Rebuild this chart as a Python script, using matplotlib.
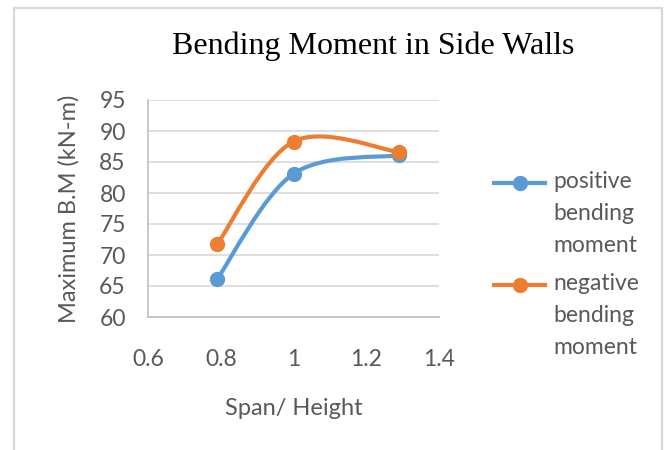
import matplotlib
matplotlib.use("Agg")
import matplotlib.pyplot as plt
from matplotlib.path import Path
from matplotlib.patches import PathPatch, Rectangle
from matplotlib.lines import Line2D
import numpy as np

span_height = [0.79, 1.0, 1.29]
positive_bm = [66.1, 83.1, 86.1]
negative_bm = [71.7, 88.3, 86.6]
x_ticks = [0.6, 0.8, 1.0, 1.2, 1.4]
x_tick_labels = ["0.6", "0.8", "1", "1.2", "1.4"]
y_ticks = [60, 65, 70, 75, 80, 85, 90, 95]
series_labels = ["positive\nbending\nmoment", "negative\nbending\nmoment"]
colors = ["#5B9BD5", "#ED7D31"]

sans = "Lato"
tick_color = "#595959"
fs = 16.5

fig = plt.figure(figsize=(6.7, 4.5), dpi=100)
fig.patches.append(Rectangle((14 / 670, -0.05), (662 - 14) / 670, 1 - 8 / 450 + 0.05,
                             transform=fig.transFigure, fill=False,
                             edgecolor="#D9D9D9", linewidth=1.6, zorder=0))

ax = fig.add_axes([148 / 670, 1 - 317 / 450, (439 - 148) / 670, (317 - 100) / 450])
ax.set_xlim(0.6, 1.4)
ax.set_ylim(60, 95)
ax.set_xticks(x_ticks)
ax.set_xticklabels(x_tick_labels)
ax.set_yticks(y_ticks)
ax.yaxis.grid(True, color="#D9D9D9", linewidth=1.2)
ax.set_axisbelow(True)
for s in ["top", "right"]:
    ax.spines[s].set_visible(False)
for s in ["left", "bottom"]:
    ax.spines[s].set_color("#BFBFBF")
    ax.spines[s].set_linewidth(1.2)
ax.tick_params(length=0, labelsize=fs, labelcolor=tick_color)
ax.tick_params(axis="x", pad=23)
ax.tick_params(axis="y", pad=16)
for lab in ax.get_xticklabels() + ax.get_yticklabels():
    lab.set_fontfamily(sans)


def smooth_path(xs, ys):
    pts = np.column_stack([xs, ys]).astype(float)
    n = len(pts)
    verts = [pts[0]]
    codes = [Path.MOVETO]
    for i in range(n - 1):
        p0 = pts[i - 1] if i > 0 else pts[i]
        p1 = pts[i]
        p2 = pts[i + 1]
        p3 = pts[i + 2] if i + 2 < n else pts[i + 1]
        c1 = p1 + (p2 - p0) / 6.0
        c2 = p2 - (p3 - p1) / 6.0
        verts += [c1, c2, p2]
        codes += [Path.CURVE4] * 3
    return Path(verts, codes)


for ys, c in zip([positive_bm, negative_bm], colors):
    patch = PathPatch(smooth_path(span_height, ys), facecolor="none",
                      edgecolor=c, linewidth=3, capstyle="round", zorder=3)
    ax.add_patch(patch)
    ax.plot(span_height, ys, linestyle="none", marker="o", markersize=10,
            color=c, zorder=4)

ax.set_xlabel("Span/ Height", fontsize=17, color=tick_color, family=sans, labelpad=20)
ax.set_ylabel("Maximum B.M (kN-m)", fontsize=17, color=tick_color, family=sans, labelpad=14)

fig.text(373 / 670, 1 - 46 / 450, "Bending Moment in Side Walls",
         ha="center", va="center", fontsize=23, family="Liberation Serif", color="black")

# legend
for k, (lab, c) in enumerate(zip(series_labels, colors)):
    y0 = 1 - (183 + k * 102) / 450
    fig.add_artist(Line2D([494 / 670, 545 / 670], [y0, y0], color=c, linewidth=3,
                          transform=fig.transFigure))
    fig.add_artist(Line2D([519.5 / 670], [y0], color=c, marker="o", markersize=10,
                          transform=fig.transFigure))
    fig.text(553 / 670, y0 + 12 / 450, lab, ha="left", va="top", fontsize=fs,
             family=sans, color=tick_color, linespacing=1.64)

fig.savefig("out.png", dpi=100)
